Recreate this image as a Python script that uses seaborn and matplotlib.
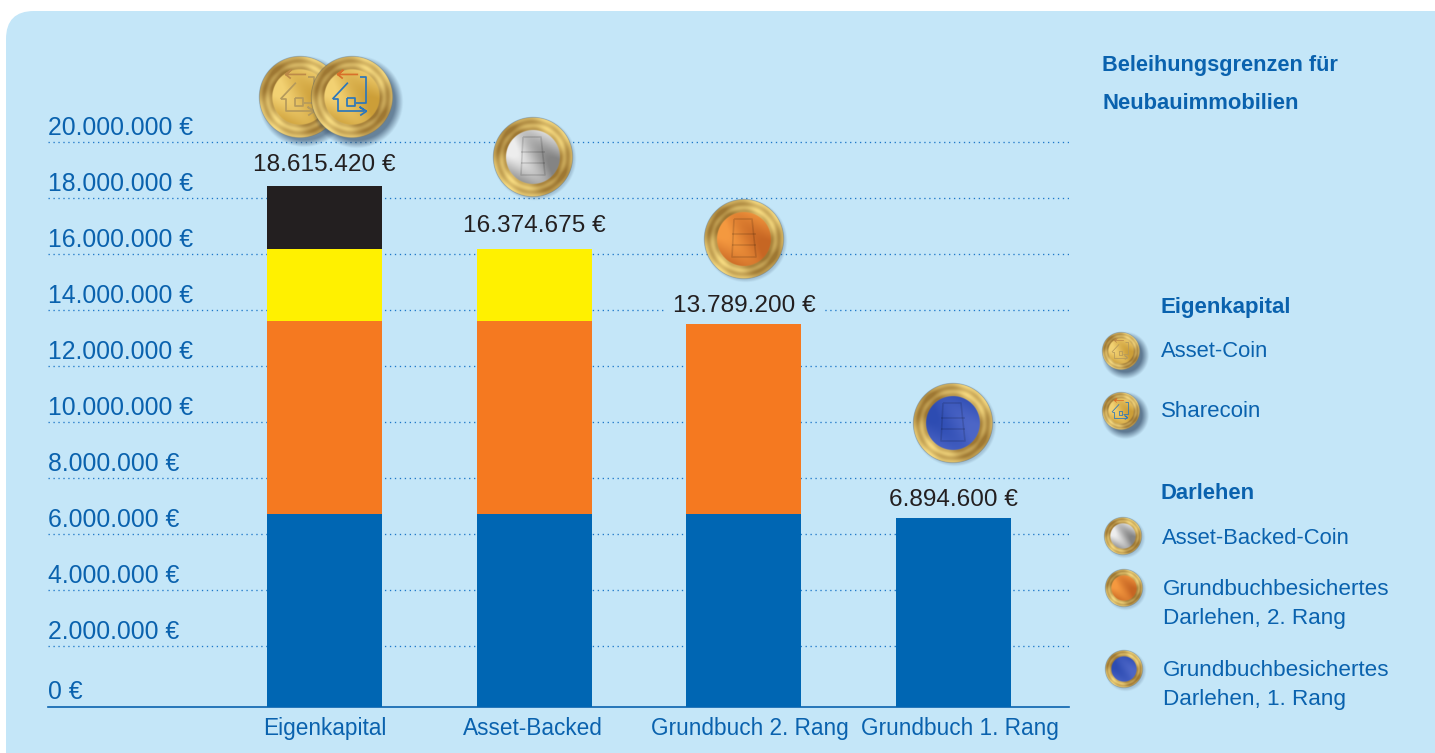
import numpy as np
import pandas as pd
import matplotlib
matplotlib.use("Agg")
import matplotlib.pyplot as plt
from matplotlib.patches import FancyBboxPatch
from matplotlib.transforms import ScaledTranslation
import seaborn as sns

# ---- data -------------------------------------------------------------
categories = ["Eigenkapital", "Asset-Backed", "Grundbuch 2. Rang", "Grundbuch 1. Rang"]
rang1 = [6894600, 6894600, 6894600, 6894600]
rang2 = [6894600, 6894600, 6894600, 0]
asset_backed = [2585475, 2585475, 0, 0]
eigenkapital = [2240745, 0, 0, 0]
total_labels = ["18.615.420 €", "16.374.675 €", "13.789.200 €", "6.894.600 €"]
grid_levels = [2, 4, 6, 8, 10, 12, 14, 16, 18, 20]
zero_label = "0 €"

heading = ["Beleihungsgrenzen für", "Neubauimmobilien"]
legend_equity = ["Asset-Coin", "Sharecoin"]
legend_loans = ["Asset-Backed-Coin", "Grundbuchbesichertes\nDarlehen, 2. Rang",
                "Grundbuchbesichertes\nDarlehen, 1. Rang"]

# ---- style ------------------------------------------------------------
W, H = 1435, 753
PANEL = "#C4E6F8"
BLUE = "#0066B3"
TEXT_BLUE = "#0A62AE"
ORANGE = "#F57920"
YELLOW = "#FFF100"
BLACK = "#231F20"
PX_PER_MILLION = 28.0
BASE_Y, LEFT, RIGHT, TOP = 707, 48, 1069, 30
LABEL_LIFT_PX = (21, 22.5, 15, 14)
TICK_SHIFT_PX = (0, -1, 6, 6)

sns.set_theme(style="white")
plt.rcParams["font.family"] = ["Liberation Sans", "DejaVu Sans"]

fig = plt.figure(figsize=(W / 100, H / 100), dpi=100, facecolor="white")


def full_axes(z):
    a = fig.add_axes([0, 0, 1, 1], zorder=z)
    a.set_xlim(0, W)
    a.set_ylim(H, 0)
    a.axis("off")
    return a


# rounded panel behind everything
ax_bg = full_axes(0)
ax_bg.add_patch(FancyBboxPatch((6, 11), 1500, 780, boxstyle="round,pad=0,rounding_size=28",
                               fc=PANEL, ec="none"))

# ---- stacked bars -----------------------------------------------------
ax = fig.add_axes([LEFT / W, 1 - BASE_Y / H, (RIGHT - LEFT) / W, (BASE_Y - TOP) / H], zorder=1)
ax.patch.set_alpha(0)

frame = pd.DataFrame({"Kategorie": categories, "Rang 1": rang1, "Rang 2": rang2,
                      "Asset-Backed": asset_backed, "Eigenkapital": eigenkapital})
layers = [("Rang 1", BLUE), ("Rang 2", ORANGE), ("Asset-Backed", YELLOW), ("Eigenkapital", BLACK)]
cumulative = frame[[n for n, _ in layers]].cumsum(axis=1)

# tallest cumulative layer first, so each lower layer paints over it
for name, colour in reversed(layers):
    subset = pd.DataFrame({"Kategorie": frame["Kategorie"], "Summe": cumulative[name]})[frame[name] > 0]
    sns.barplot(data=subset, x="Kategorie", y="Summe", order=categories, color=colour,
                saturation=1, width=0.548, ax=ax, zorder=3, linewidth=0)

unit = 209.67
ax.set_xlim(-(324.5 - LEFT) / unit, (RIGHT - 324.5) / unit)
ax.set_ylim(0, (BASE_Y - TOP) / PX_PER_MILLION * 1e6)
ax.set_xlabel("")
ax.set_ylabel("")
ax.set_yticks([])
ax.tick_params(axis="x", length=0, pad=7, labelsize=16.3, labelcolor=TEXT_BLUE)
for tick_label, shift in zip(ax.get_xticklabels(), TICK_SHIFT_PX):
    tick_label.set_transform(tick_label.get_transform()
                             + ScaledTranslation(shift / fig.dpi, 0, fig.dpi_scale_trans))
for side in ("top", "right", "left"):
    ax.spines[side].set_visible(False)
ax.spines["bottom"].set_color(TEXT_BLUE)
ax.spines["bottom"].set_linewidth(1.2)
ax.grid(False)

# the dotted guides and their labels sit a few pixels above the euro scale
nudge = ax.get_yaxis_transform() + ScaledTranslation(0, 5 / fig.dpi, fig.dpi_scale_trans)
ax.hlines([v * 1e6 for v in grid_levels], 0, 1, transform=nudge, colors="#1F78C8",
          linewidth=0.95, linestyles=[(0, (1, 2.75))], zorder=1)
for v in grid_levels:
    ax.annotate(f"{v * 1000000:,} €".replace(",", "."), xy=(0, v * 1e6), xycoords=ax.get_yaxis_transform(),
                xytext=(0, 19 * 0.72), textcoords="offset points", ha="left", va="center",
                fontsize=17.8, color=TEXT_BLUE, annotation_clip=False)
ax.annotate(zero_label, xy=(0, 0), xycoords=ax.get_yaxis_transform(), xytext=(0, 15 * 0.72),
            textcoords="offset points", ha="left", va="center", fontsize=17.8, color=TEXT_BLUE,
            annotation_clip=False)

# totals above each stack; the box interrupts the guide running behind the text
totals = cumulative["Eigenkapital"].to_numpy()
for i, (value, text) in enumerate(zip(totals, total_labels)):
    ax.annotate(text, xy=(i, value), xytext=(0, LABEL_LIFT_PX[i] * 0.72), textcoords="offset points",
                ha="center", va="center", fontsize=17.6, color=BLACK, zorder=4,
                bbox=dict(boxstyle="square,pad=0.3", fc=PANEL, ec="none"))

# ---- coins ------------------------------------------------------------
ax_top = full_axes(2)


def coin(cx, cy, r, c1, c2, shadow=0.35, spread=7, glyph=None):
    """Paint one coin as an RGBA raster: soft shadow, gold rim and a shaded centre."""
    pad = int(spread + 8)
    n = int((r + pad) * 2 * 2)
    ys, xs = np.mgrid[0:n, 0:n]
    x = (xs + 0.5) / 2 - (r + pad)
    y = (ys + 0.5) / 2 - (r + pad)
    d = np.hypot(x, y)
    th = np.arctan2(y, x)
    img = np.zeros((n, n, 4))
    # shadow
    ds = np.hypot(x - spread * 0.55, y - spread * 0.55)
    img[..., :3] = (0.16, 0.25, 0.36)
    img[..., 3] = shadow * np.clip((r + spread * 0.6 - ds) / (spread * 0.9 + 1e-6), 0, 1)
    # rim
    u = d / r
    a = np.clip((r - d) * 2, 0, 1)
    shade = 0.45 + 0.33 * np.cos(2 * (th + 0.9)) + 0.16 * np.sin(u * 34) + 0.08 * np.sin(th * 9 + u * 7)
    shade = np.clip(shade, 0, 1)[..., None]
    rim = np.array((0.62, 0.47, 0.20)) * (1 - shade) + np.array((0.96, 0.85, 0.50)) * shade
    # centre
    t = np.clip(0.5 + (x * 0.7 + y * 0.7) / (1.5 * r) + 0.3 * np.sin((x - y) / r * 4.2), 0, 1)[..., None]
    centre = np.array(c1) * (1 - t) + np.array(c2) * t
    core = np.clip((0.68 * r - d) * 2, 0, 1)[..., None]
    body = rim * (1 - core) + centre * core
    img[..., :3] = img[..., :3] * (1 - a[..., None]) + body * a[..., None]
    img[..., 3] = img[..., 3] * (1 - a) + a
    ax_top.imshow(img, extent=(cx - r - pad, cx + r + pad, cy + r + pad, cy - r - pad),
                  interpolation="bilinear", aspect="auto", zorder=coin.z)
    coin.z += 1
    if glyph:
        s = r / 40
        for pts, col in glyph:
            p = np.array(pts, float) * s
            ax_top.plot(cx + p[:, 0], cy + p[:, 1], color=col, lw=max(0.45, 1.2 * s),
                        solid_capstyle="butt", zorder=coin.z)
    ax_top.set_xlim(0, W)
    ax_top.set_ylim(H, 0)


coin.z = 5
GOLD = ((0.95, 0.82, 0.45), (0.80, 0.62, 0.22))
SILVER = ((0.93, 0.93, 0.93), (0.52, 0.52, 0.52))
COPPER = ((0.96, 0.60, 0.25), (0.78, 0.40, 0.14))
COBALT = ((0.18, 0.30, 0.70), (0.30, 0.40, 0.78))


def house(col_roof, col_body, col_arrow):
    return [
        ([(-19, 2), (-4, -14)], col_roof),
        ([(-19, 2), (-14, 2), (-14, 14), (12, 14)], col_body),
        ([(6, -22), (-14, -22), (-9, -26), (-14, -22), (-9, -18)], col_arrow),
        ([(8, -20), (14, -20), (14, 6), (4, 6)], col_body),
        ([(-5, 1), (3, 1), (3, 9), (-5, 9), (-5, 1)], col_body),
        ([(14, 14), (8, 10), (14, 14), (8, 18)], col_body),
    ]


plain = house("#B59A5C", "#B59A5C", "#BD8A48")
share = house("#2A76BC", "#2A76BC", "#D8702A")
flat = [([(-10, -20), (8, -20), (12, 18), (-12, 18), (-10, -20)], "#00000022"),
        ([(-12, -5), (12, -5)], "#00000022"), ([(-12, 6), (12, 6)], "#00000022")]

# coins over the bars
coin(300, 97, 41, *GOLD, shadow=0.55, spread=8, glyph=plain)
coin(352, 97, 41, *GOLD, shadow=0.6, spread=9, glyph=share)
coin(533, 157, 40, *SILVER, shadow=0.2, spread=3, glyph=flat)
coin(744, 239, 40, *COPPER, shadow=0.2, spread=3, glyph=flat)
coin(953, 423, 40, *COBALT, shadow=0.2, spread=3, glyph=flat)
# legend coins
coin(1121, 351, 19, *GOLD, shadow=0.65, spread=8, glyph=plain)
coin(1121, 411, 19, *GOLD, shadow=0.65, spread=8, glyph=share)
coin(1123, 536, 19, *SILVER, shadow=0.2, spread=3)
coin(1124, 588, 19, *COPPER, shadow=0.2, spread=3)
coin(1124, 669, 19, *COBALT, shadow=0.2, spread=3)

# ---- heading and key --------------------------------------------------
def label(x, y, text, bold=False, size=16.0, **kw):
    ax_top.text(x, y, text, ha="left", va="center", color=TEXT_BLUE, fontsize=size,
                fontweight="bold" if bold else "normal", zorder=50, **kw)


label(1102, 65, heading[0], bold=True, size=15.7)
label(1102, 103, heading[1], bold=True, size=15.8)
label(1161, 307, "Eigenkapital", bold=True, size=16)
label(1161, 351, legend_equity[0], size=15.8)
label(1161, 411, legend_equity[1])
label(1161, 493, "Darlehen", bold=True, size=15.8)
label(1162, 538, legend_loans[0], size=15.8)
label(1163, 604, legend_loans[1], size=16.2, linespacing=1.55)
label(1163, 685, legend_loans[2], size=16.2, linespacing=1.55)

fig.savefig("out.png", dpi=100, facecolor="white")
